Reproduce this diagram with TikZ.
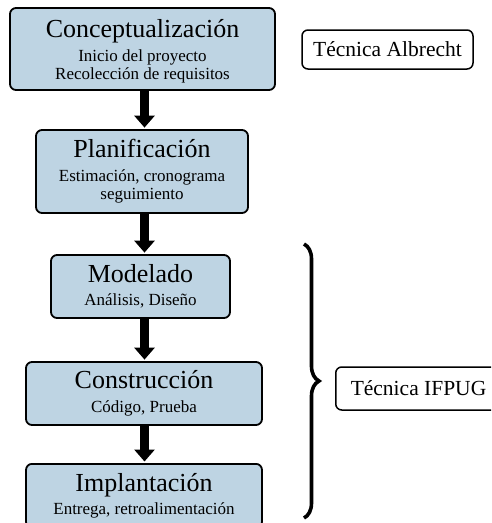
\documentclass[tikz,border=0pt]{standalone}
\usepackage{fontspec}
\setmainfont{Liberation Serif}
\usetikzlibrary{arrows.meta,decorations.pathreplacing}
\definecolor{boxblue}{RGB}{190,212,227}
\newcommand{\ttlfont}{\fontsize{26}{28}\selectfont}
\newcommand{\subfont}{\fontsize{17}{18.5}\selectfont}
\tikzset{
  phase/.style={draw=black, line width=1.8pt, rounded corners=6pt, fill=boxblue,
    align=center, inner sep=0pt, font=\subfont},
  tecnica/.style={draw=black, line width=1.5pt, rounded corners=6pt, fill=white,
    inner sep=0pt, font=\fontsize{21.5}{24}\selectfont},
  flow/.style={line width=8.5pt, -{Triangle[width=20pt,length=12pt]}, shorten >=1.5pt},
  bracestyle/.style={line width=3.6pt, decorate, decoration={brace, amplitude=15pt}}
}
\begin{document}
\begin{tikzpicture}[x=1pt,y=-1pt]
\useasboundingbox (0,0) rectangle (491,523);
\clip (0,0) rectangle (491,523);
\node[phase, minimum width=265pt, minimum height=82pt] (b1) at (142.5,49)
  {{\ttlfont\rule{0pt}{23.5pt}Conceptualización}\\[5pt]Inicio del proyecto\\Recolección de requisitos};
\node[phase, minimum width=212pt, minimum height=83pt] (b2) at (142,171.5)
  {{\ttlfont Planificación}\\[5pt]Estimación, cronograma\\seguimiento};
\node[phase, minimum width=179pt, minimum height=63pt] (b3) at (140.5,286.5)
  {{\ttlfont Modelado}\\[5pt]Análisis, Diseño};
\node[phase, minimum width=236pt, minimum height=63pt] (b4) at (144,393.5)
  {{\ttlfont Construcción}\\[5pt]Código, Prueba};
\node[phase, minimum width=236pt, minimum height=64pt, anchor=north] (b5) at (144,463)
  {{\ttlfont Implantación}\\[5pt]Entrega, retroalimentación};
\coordinate (ax) at (144.5,0);
\draw[flow] (b1.south -| ax) -- (b2.north -| ax);
\draw[flow] (b2.south -| ax) -- (b3.north -| ax);
\draw[flow] (b3.south -| ax) -- (b4.north -| ax);
\draw[flow] (b4.south -| ax) -- (b5.north -| ax);
\node[tecnica, minimum width=171pt, minimum height=39pt] (ta) at (387.5,49.5) {Técnica Albrecht};
\node[tecnica, minimum height=43pt, anchor=west, inner xsep=15pt] (ti) at (335,388.5) {Técnica IFPUG};
\coordinate (bt) at (304,244);
\coordinate (bb) at (304,518);
\draw[bracestyle] (bt) -- (bb);
\end{tikzpicture}
\end{document}
